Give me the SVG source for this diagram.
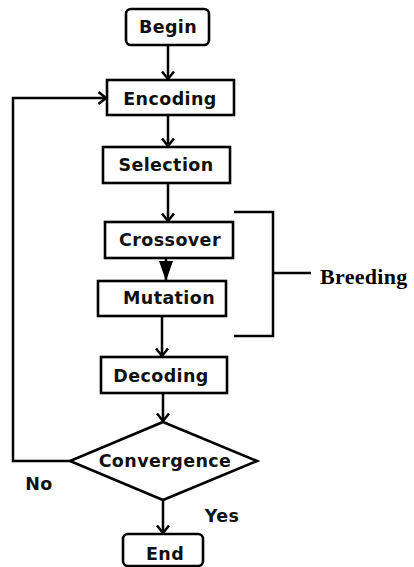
<svg xmlns="http://www.w3.org/2000/svg" width="414" height="567" viewBox="0 0 414 567">
<style>
.box{fill:#fff;stroke:#000;stroke-width:2.6}
.t{font-family:"DejaVu Sans",sans-serif;font-weight:bold;font-size:17.5px;letter-spacing:0.4px;text-anchor:middle;fill:#111}
.c{fill:none;stroke:#000;stroke-width:2.5}
.b{font-family:"Liberation Serif","Times New Roman",serif;font-weight:bold;font-size:22px;letter-spacing:0.3px;fill:#000}
</style>
<defs>
<marker id="open" markerUnits="userSpaceOnUse" viewBox="0 0 10 14" refX="8.5" refY="7" markerWidth="10" markerHeight="14" orient="auto">
<path d="M1,1 L8.5,7 L1,13" fill="none" stroke="#000" stroke-width="2.5"/>
</marker>
<marker id="fill" markerUnits="userSpaceOnUse" viewBox="0 0 20 14" refX="20" refY="7" markerWidth="20" markerHeight="14" orient="auto">
<path d="M0,0 L20,7 L0,14 Z" fill="#000"/>
</marker>
</defs>
<g id="connectors">
<line class="c" x1="168" y1="45" x2="168" y2="79" marker-end="url(#open)"/>
<line class="c" x1="168" y1="115" x2="168" y2="146" marker-end="url(#open)"/>
<line class="c" x1="168" y1="183" x2="168" y2="221" marker-end="url(#open)"/>
<line class="c" x1="166" y1="258" x2="166" y2="281" marker-end="url(#fill)"/>
<line class="c" x1="162" y1="316" x2="162" y2="356" marker-end="url(#open)"/>
<line class="c" x1="163" y1="393" x2="163" y2="421" marker-end="url(#open)"/>
<line class="c" x1="163" y1="500" x2="163" y2="533" marker-end="url(#open)"/>
<polyline class="c" points="70,461 13,461 13,98 106,98" marker-end="url(#open)"/>
</g>
<g id="begin"><rect class="box" x="126" y="9" width="83" height="36" rx="5"/><text class="t" x="168" y="33">Begin</text></g>
<g id="encoding"><rect class="box" x="107" y="80" width="127" height="35"/><text class="t" x="170" y="105">Encoding</text></g>
<g id="selection"><rect class="box" x="103" y="147" width="127" height="36"/><text class="t" x="166" y="171">Selection</text></g>
<g id="crossover"><rect class="box" x="105" y="222" width="128" height="36"/><text class="t" x="170" y="246">Crossover</text></g>
<g id="mutation"><rect class="box" x="98" y="281" width="128" height="35"/><text class="t" x="169" y="304">Mutation</text></g>
<g id="decoding"><rect class="box" x="101" y="357" width="126" height="36"/><text class="t" x="161" y="382">Decoding</text></g>
<g id="convergence"><polygon class="box" points="163,422 257,461 163,500 70,461"/><text class="t" x="165" y="467">Convergence</text></g>
<g id="end"><rect class="box" x="123" y="534" width="80" height="32" rx="5"/><text class="t" x="165" y="560">End</text></g>
<g id="labels">
<text class="t" x="39" y="490">No</text>
<text class="t" x="222" y="522">Yes</text>
</g>
<g id="breeding">
<polyline class="c" points="234,212 273,212 273,336 234,336" stroke-width="2"/>
<line class="c" x1="273" y1="273" x2="311" y2="273" stroke-width="2"/>
<text class="b" x="320" y="284">Breeding</text>
</g>
</svg>
